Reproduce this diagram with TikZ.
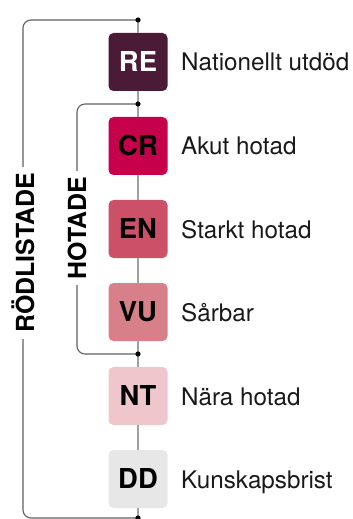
\documentclass[tikz,border=0pt]{standalone}
\usepackage{fontspec}
\setmainfont{TeX Gyre Heros}
\definecolor{cRE}{HTML}{4A1A36}
\definecolor{cCR}{HTML}{C7004C}
\definecolor{cEN}{HTML}{CB5068}
\definecolor{cVU}{HTML}{D88089}
\definecolor{cNT}{HTML}{EEC6CB}
\definecolor{cDD}{HTML}{E7E7E7}
\definecolor{connc}{HTML}{A0A0A0}
\definecolor{brc}{HTML}{606060}
\begin{document}
\begin{tikzpicture}[x=1bp,y=-1bp,
  catbox/.style={rounded corners=5bp, minimum width=59bp, minimum height=58bp, inner sep=0pt,
    font=\fontsize{27.5}{28}\selectfont\bfseries, text=black},
  desc/.style={anchor=base west, inner sep=0pt, font=\fontsize{24.3}{25}\selectfont, text=black!90},
  conn/.style={draw=connc, line width=2bp},
  bracket/.style={draw=brc, line width=1.1bp, rounded corners=8bp},
  dot/.style={fill=black},
  grp/.style={rotate=90, fill=white, inner xsep=6bp, inner ysep=0pt, font=\fontsize{25}{25}\selectfont\bfseries}]
\useasboundingbox (0,0) rectangle (352,519);
% boxes
\node[catbox, fill=cRE, text=white] (re) at (138,62) {RE};
\node[catbox, fill=cCR] (cr) at (138,146) {CR};
\node[catbox, fill=cEN] (en) at (138,229) {EN};
\node[catbox, fill=cVU] (vu) at (138,312) {VU};
\node[catbox, fill=cNT] (nt) at (138,396) {NT};
\node[catbox, fill=cDD] (dd) at (138,479) {DD};
% dots and bracket corners
\coordinate (top) at (138,20);
\coordinate (bot) at (138,518);
\coordinate (hta) at (138,104);
\coordinate (htb) at (138,354);
\coordinate (rtl) at (23,20);
\coordinate (rbl) at (23,518);
\coordinate (htl) at (77,104);
\coordinate (hbl) at (77,354);
% connectors
\draw[conn] (top) -- (re);
\draw[conn] (re) -- (cr);
\draw[conn] (cr) -- (en);
\draw[conn] (en) -- (vu);
\draw[conn] (vu) -- (nt);
\draw[conn] (nt) -- (dd);
\draw[conn] (dd) -- (bot);
% brackets
\draw[bracket] (top) -- (rtl) -- (rbl) -- (bot);
\draw[bracket] (hta) -- (htl) -- (hbl) -- (htb);
\fill[dot] (top) circle (2.6bp);
\fill[dot] (bot) circle (2.6bp);
\fill[dot] (hta) circle (2.6bp);
\fill[dot] (htb) circle (2.6bp);
% group labels
\node[grp] (rl) at (23,253) {RÖDLISTADE};
\node[grp] (hl) at (77,228) {HOTADE};
% descriptions
\node[desc] (dre) at (181,71) {Nationellt utdöd};
\node[desc] (dcr) at (181,155) {Akut hotad};
\node[desc] (den) at (181,238) {Starkt hotad};
\node[desc] (dvu) at (181,321) {Sårbar};
\node[desc] (dnt) at (181,405) {Nära hotad};
\node[desc] (ddd) at (181,488) {Kunskapsbrist};
\end{tikzpicture}
\end{document}
